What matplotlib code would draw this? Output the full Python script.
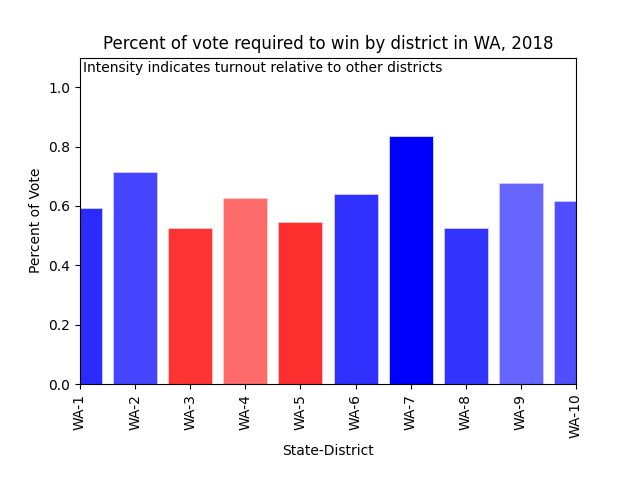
import matplotlib
matplotlib.use("Agg")
import matplotlib.pyplot as plt

districts = ['WA-1', 'WA-2', 'WA-3', 'WA-4', 'WA-5', 'WA-6', 'WA-7', 'WA-8', 'WA-9', 'WA-10']
pct_to_win = [0.593, 0.714, 0.525, 0.626, 0.545, 0.640, 0.835, 0.525, 0.677, 0.616]
party_color = ['blue', 'blue', 'red', 'red', 'red', 'blue', 'blue', 'blue', 'blue', 'blue']
turnout_alpha = [0.83, 0.73, 0.80, 0.58, 0.82, 0.81, 1.0, 0.80, 0.60, 0.69]

fig, ax = plt.subplots(figsize=(6.4, 4.8), dpi=100)
fig.subplots_adjust(bottom=0.2)

for i, (d, v) in enumerate(zip(districts, pct_to_win)):
    ax.bar(i, v, width=0.8, color=party_color[i], alpha=turnout_alpha[i],
           edgecolor=(0.85, 0.85, 1.0) if party_color[i] == 'blue' else (1.0, 0.85, 0.85),
           linewidth=0.6)

ax.set_xticks(range(len(districts)))
ax.set_xticklabels(districts, rotation=90)
ax.set_xlim(0, len(districts) - 1)
ax.set_ylim(0, 1.1)
ax.set_title('Percent of vote required to win by district in WA, 2018')
ax.set_xlabel('State-District')
ax.set_ylabel('Percent of Vote')
ax.text(0.006, 0.99, 'Intensity indicates turnout relative to other districts',
        transform=ax.transAxes, va='top', ha='left')

fig.savefig('out.png')
